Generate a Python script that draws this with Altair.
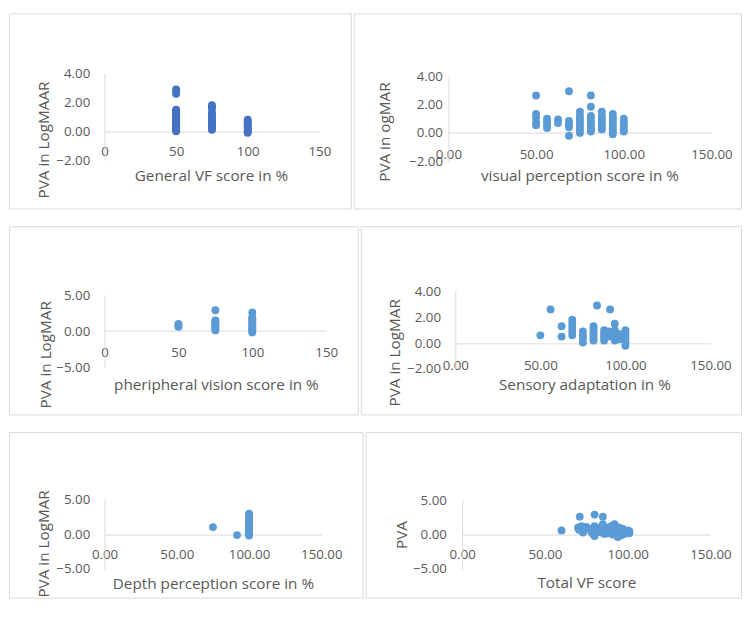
import altair as alt
import pandas as pd

# ---------------- data ----------------
p1_x = [50, 50, 50, 50, 50, 50, 50, 50, 50, 50, 50, 50, 50, 50, 50, 50, 50, 50, 50,
        75, 75, 75, 75, 75, 75, 75, 75, 75, 75, 75, 75, 75, 75, 75,
        100, 100, 100, 100, 100, 100, 100, 100, 100, 100]
p1_y = [2.9, 2.75, 2.6, 1.5, 1.4, 1.3, 1.2, 1.1, 1.0, 0.9, 0.8, 0.7, 0.6, 0.5, 0.4, 0.3, 0.2, 0.1, 0.0,
        1.8, 1.7, 1.6, 1.3, 1.2, 1.0, 0.9, 0.8, 0.7, 0.6, 0.5, 0.4, 0.3, 0.2, 0.1,
        0.8, 0.7, 0.6, 0.5, 0.4, 0.3, 0.2, 0.1, 0.0, -0.1]

p2_x = [50, 50, 50, 50, 50,
        56.25, 56.25, 56.25, 56.25,
        62.5, 62.5,
        68.75, 68.75, 68.75, 68.75, 68.75,
        75, 75, 75, 75, 75, 75, 75, 75,
        81.25, 81.25, 81.25, 81.25, 81.25, 81.25, 81.25, 81.25, 81.25,
        87.5, 87.5, 87.5, 87.5, 87.5, 87.5, 87.5,
        93.75, 93.75, 93.75, 93.75, 93.75, 93.75, 93.75, 93.75,
        100, 100, 100, 100, 100, 100]
p2_y = [2.65, 1.35, 1.1, 0.75, 0.55,
        1.0, 0.8, 0.6, 0.35,
        0.95, 0.7,
        2.95, 0.85, 0.6, 0.4, -0.2,
        1.5, 1.2, 1.0, 0.8, 0.6, 0.4, 0.2, 0.0,
        2.65, 1.85, 1.2, 1.0, 0.8, 0.6, 0.4, 0.2, 0.1,
        1.5, 1.2, 1.0, 0.8, 0.6, 0.4, 0.25,
        1.35, 1.1, 0.9, 0.7, 0.5, 0.3, 0.1, -0.1,
        1.0, 0.8, 0.6, 0.4, 0.2, 0.1]

p3_x = [50, 50, 50,
        75, 75, 75, 75, 75, 75, 75, 75, 75,
        100, 100, 100, 100, 100, 100, 100, 100, 100, 100, 100, 100, 100]
p3_y = [1.0, 0.8, 0.6,
        2.9, 1.5, 1.3, 1.1, 0.9, 0.7, 0.5, 0.3, 0.1,
        2.6, 2.0, 1.8, 1.6, 1.4, 1.2, 1.0, 0.8, 0.6, 0.4, 0.2, 0.0, -0.2]

p4_x = [50, 56, 62.5, 62.5,
        68.75, 68.75, 68.75, 68.75, 68.75,
        75, 75, 75, 75,
        81.25, 81.25, 81.25, 81.25, 81.25, 81.25, 81.25,
        83.3, 87.5, 87.5, 87.5, 87.5, 87.5,
        90, 90, 91,
        93.75, 93.75, 93.75, 93.75, 93.75, 93.75,
        96, 96,
        100, 100, 100, 100, 100, 100, 100]
p4_y = [0.6, 2.6, 1.3, 0.5,
        1.8, 1.5, 1.2, 0.9, 0.6,
        0.9, 0.6, 0.4, 0.05,
        1.3, 1.1, 0.9, 0.7, 0.5, 0.3, 0.2,
        2.9, 1.0, 0.8, 0.6, 0.4, 0.2,
        0.9, 0.5, 2.6,
        1.5, 1.0, 0.8, 0.6, 0.4, 0.2,
        0.7, 0.3,
        1.0, 0.8, 0.6, 0.4, 0.2, 0.0, -0.2]

p5_x = [75, 91.67,
        100, 100, 100, 100, 100, 100, 100, 100, 100, 100, 100, 100, 100]
p5_y = [1.0, -0.15,
        2.9, 2.6, 2.2, 1.8, 1.5, 1.2, 1.0, 0.8, 0.6, 0.4, 0.2, 0.0, -0.2]

p6_x = [60, 71, 70, 70.5, 72, 73, 74, 75, 80, 85,
        76, 78, 79, 80, 80, 82, 83, 84, 85, 86, 86, 87, 88, 88, 89, 90, 90, 91,
        92, 92, 93, 94, 94, 95, 95, 96, 96, 97, 98, 98, 99, 100, 100, 101, 101]
p6_y = [0.6, 2.6, 1.0, 0.7, 1.2, 0.3, 0.9, 1.1, 2.9, 2.6,
        0.9, 0.4, 0.1, -0.2, 1.2, 0.6, 1.0, 0.3, 1.5, 0.8, 0.1, 0.5, 1.0, 0.2, 0.7, 1.2, 0.4, 0.0,
        0.9, 1.5, 0.5, 0.2, -0.35, 1.0, 0.6, 0.3, -0.1, 0.8, 0.5, 0.1, 0.3, 0.6, 0.4, 0.2, 0.5]

x_ticks_int = [0, 50, 100, 150]
y_ticks_small = [-2, 0, 2, 4]
y_ticks_big = [-5, 0, 5]

DARK = "#4472C4"
LIGHT = "#5B9BD5"
AXIS_GRAY = "#D9D9D9"
TEXT_GRAY = "#595959"
FONT = "Open Sans"


def panel(xs, ys, color, W, H, xr, yr, ydom, yticks, xfmt,
          xoff, yoff, xlabpad, ylabpad, xtitle, ytitle, xtx, xty, ytx, yty):
    df = pd.DataFrame({"x": xs, "y": ys})
    common = dict(grid=False, ticks=True, tickSize=0, tickWidth=0,
                  domainColor=AXIS_GRAY, domainWidth=1,
                  labelColor=TEXT_GRAY, labelFont=FONT, labelFontSize=13.5,
                  labelOverlap=False, labelFlush=False,
                  titleColor=TEXT_GRAY, titleFont=FONT, titleFontSize=15.5,
                  titleFontWeight="normal", titleBaseline="middle")
    return alt.Chart(df).mark_circle(size=64, opacity=1, color=color).encode(
        x=alt.X("x:Q",
                scale=alt.Scale(domain=[0, 150], range=xr, nice=False, zero=False),
                axis=alt.Axis(values=x_ticks_int, format=xfmt, offset=xoff,
                              labelPadding=xlabpad, labelBaseline="middle",
                              title=xtitle, titleX=xtx, titleY=xty, **common)),
        y=alt.Y("y:Q",
                scale=alt.Scale(domain=ydom, range=yr, nice=False, zero=False),
                axis=alt.Axis(values=yticks, format=".2f", offset=yoff,
                              labelPadding=ylabpad,
                              title=ytitle, titleX=ytx, titleY=yty, **common)),
    ).properties(width=W, height=H)


p1 = panel(p1_x, p1_y, DARK, 347, 198, [97, 315], [149, 61], [-2, 4], y_ticks_small, "d",
           -78, -97, 20, 15, "General VF score in %", "PVA in LogMAAR", 205, 45, -62, 128)
p2 = panel(p2_x, p2_y, LIGHT, 393, 198, [96, 363], [150, 64], [-2, 4], y_ticks_small, ".2f",
           -77, -96, 22, 6, "visual perception score in %", "PVA in ogMAR", 229, 44, -65, 120)
p3 = panel(p3_x, p3_y, LIGHT, 354, 191, [97, 322], [143, 70], [-5, 5], y_ticks_big, "d",
           -85, -97, 22, 15, "pheripheral vision score in %", "PVA in LogMAR", 210, 55, -60, 130)
p4 = panel(p4_x, p4_y, LIGHT, 386, 191, [96, 355], [145, 66], [-2, 4], y_ticks_small, ".2f",
           -72, -96, 22, 15, "Sensory adaptation  in %", "PVA in LogMAR", 227, 42, -62, 128)
p5 = panel(p5_x, p5_y, LIGHT, 359, 168, [97, 317], [139, 68], [-5, 5], y_ticks_big, ".2f",
           -64, -97, 20, 15, "Depth perception score in %", "PVA in LogMAR", 207, 50, -62, 113)
p6 = panel(p6_x, p6_y, LIGHT, 381, 168, [98, 350], [139, 69], [-5, 5], y_ticks_big, ".2f",
           -64, -98, 20, 16, "Total VF score", "PVA", 224, 49, -62, 104)

row1 = alt.hconcat(p1, p2, spacing=1)
row2 = alt.hconcat(p3, p4, spacing=1)
row3 = alt.hconcat(p5, p6, spacing=1)

chart = alt.vconcat(row1, row2, row3, spacing=16).properties(
    padding={"left": 0, "top": 0, "right": 0, "bottom": 0}, background="white"
).configure_view(stroke=AXIS_GRAY, strokeWidth=1)

chart.save("out.html", embed_options={"renderer": "svg", "actions": False})
